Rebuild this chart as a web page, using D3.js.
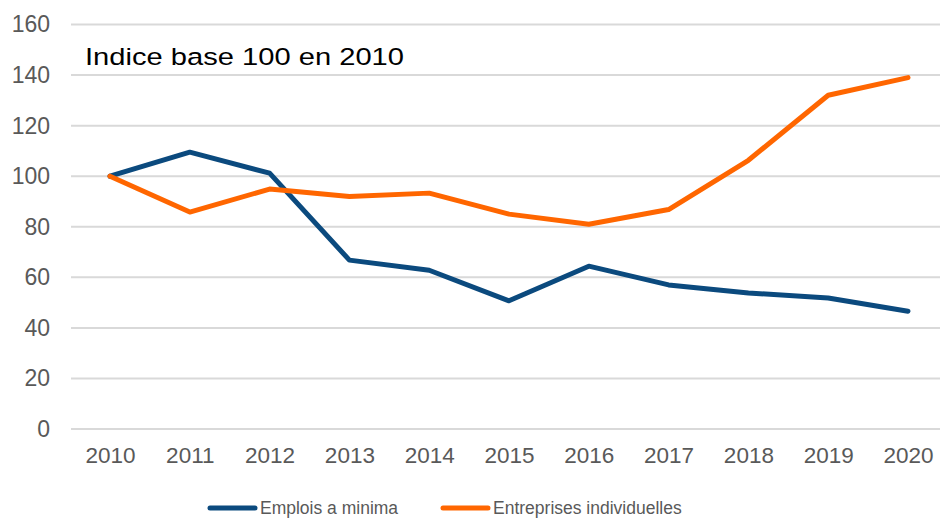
<!DOCTYPE html>
<html>
<head>
<meta charset="utf-8">
<script src="https://cdn.jsdelivr.net/npm/d3@7"></script>
<style>
  body { margin: 0; background: #fff; }
  svg { display: block; font-family: "Liberation Sans", Arial, sans-serif; }
</style>
</head>
<body>
<svg id="chart" width="940" height="518"></svg>
<script>
// data
let years = ["2010", "2011", "2012", "2013", "2014", "2015", "2016", "2017", "2018", "2019", "2020"];
let emploisMinima = [100, 109.5, 101.2, 66.8, 62.8, 50.7, 64.4, 57, 53.8, 51.8, 46.6];
let entreprisesInd = [100, 85.8, 94.9, 92, 93.3, 85, 81, 86.8, 106.3, 132, 139];
let yTicks = [0, 20, 40, 60, 80, 100, 120, 140, 160];

// colors
let colorBlue = "#0b4a7e";
let colorOrange = "#ff6600";
let colorGrid = "#d9d9d9";
let colorText = "#595959";

let series = [
    {name: "Emplois a minima", values: emploisMinima, color: colorBlue},
    {name: "Entreprises individuelles", values: entreprisesInd, color: colorOrange}
];

let svg = d3.select("#chart");

let x = d3.scalePoint()
    .domain(years)
    .range([110, 908]);

let y = d3.scaleLinear()
    .domain([0, 160])
    .range([429, 24.5]);

// gridlines
svg.append("g")
    .selectAll("line")
    .data(yTicks)
    .enter()
    .append("line")
    .attr("x1", 71)
    .attr("x2", 940)
    .attr("y1", d => y(d))
    .attr("y2", d => y(d))
    .style("stroke", colorGrid)
    .style("stroke-width", 2);

// y axis labels
let yAxis = svg.append("g")
    .attr("transform", "translate(50,0)")
    .call(d3.axisLeft(y).tickValues(yTicks).tickSize(0).tickPadding(0));
yAxis.select(".domain").remove();
yAxis.selectAll("text")
    .style("font-size", "23px")
    .style("fill", colorText)
    .style("font-family", "Liberation Sans, Arial, sans-serif");

// x axis labels
let xAxis = svg.append("g")
    .attr("transform", "translate(0,447)")
    .call(d3.axisBottom(x).tickSize(0).tickPadding(0));
xAxis.select(".domain").remove();
xAxis.selectAll("text")
    .style("font-size", "22.5px")
    .style("fill", colorText)
    .style("font-family", "Liberation Sans, Arial, sans-serif");

// lines
let line = d3.line()
    .x((d, i) => x(years[i]))
    .y(d => y(d));

svg.selectAll(".series")
    .data(series)
    .enter()
    .append("path")
    .attr("class", "series")
    .attr("d", d => line(d.values))
    .style("fill", "none")
    .style("stroke", d => d.color)
    .style("stroke-width", 5)
    .style("stroke-linejoin", "round")
    .style("stroke-linecap", "round");

// annotation
svg.append("text")
    .attr("x", 85)
    .attr("y", 64.5)
    .attr("textLength", 319)
    .attr("lengthAdjust", "spacingAndGlyphs")
    .text("Indice base 100 en 2010")
    .style("font-size", "24.5px")
    .style("fill", "#000");

// legend
let legendX = [210, 443];
let legend = svg.selectAll(".legend")
    .data(series)
    .enter()
    .append("g")
    .attr("class", "legend")
    .attr("transform", (d, i) => "translate(" + legendX[i] + ",508)");

legend.append("line")
    .attr("x1", 0)
    .attr("x2", 45)
    .style("stroke", d => d.color)
    .style("stroke-width", 5)
    .style("stroke-linecap", "round");

legend.append("text")
    .attr("x", 50)
    .attr("y", 5.5)
    .text(d => d.name)
    .style("font-size", "17.5px")
    .style("fill", colorText);
</script>
</body>
</html>
